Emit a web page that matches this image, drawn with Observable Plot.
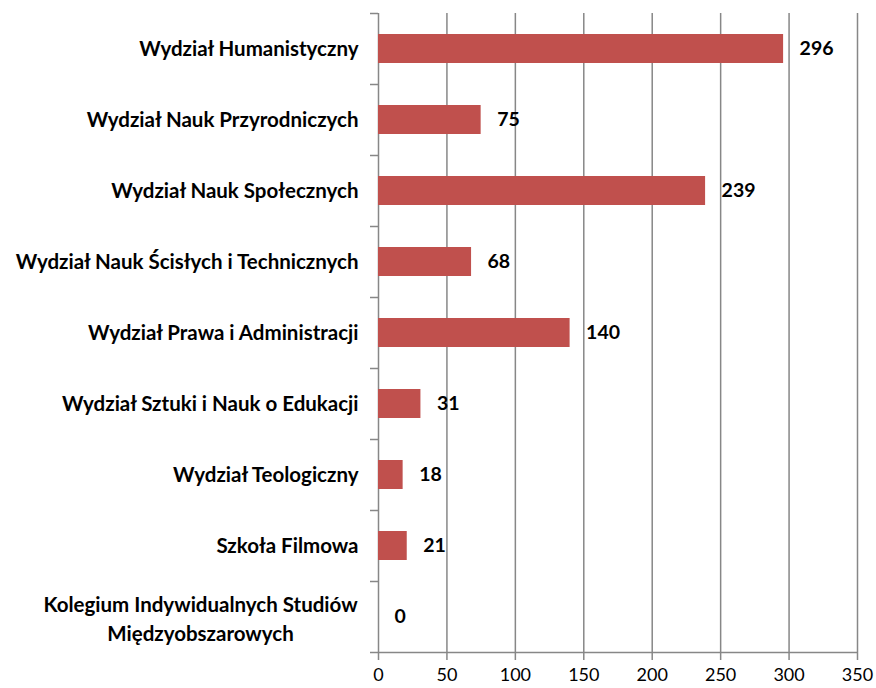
<!DOCTYPE html>
<html>
<head>
<meta charset="utf-8">
<script src="https://cdn.jsdelivr.net/npm/d3@7"></script>
<script src="https://cdn.jsdelivr.net/npm/@observablehq/plot@0.6"></script>
<style>
  html, body { margin: 0; padding: 0; background: #fff; }
  #chart svg { display: block; }
</style>
</head>
<body>
<div id="chart"></div>
<script>
const categories = [
  "Wydział Humanistyczny",
  "Wydział Nauk Przyrodniczych",
  "Wydział Nauk Społecznych",
  "Wydział Nauk Ścisłych i Technicznych",
  "Wydział Prawa i Administracji",
  "Wydział Sztuki i Nauk o Edukacji",
  "Wydział Teologiczny",
  "Szkoła Filmowa",
  "Kolegium Indywidualnych Studiów\nMiędzyobszarowych"
];
const values = [296, 75, 239, 68, 140, 31, 18, 21, 0];
const xTicks = [0, 50, 100, 150, 200, 250, 300, 350];

const data = categories.map((c, i) => ({category: c, value: values[i], i}));
const single = data.filter(d => !d.category.includes("\n"));
const multi = data.filter(d => d.category.includes("\n"));
const boundaries = d3.range(categories.length + 1);

const grid = "#878787";
const font = "Lato, 'Open Sans', sans-serif";

const chart = Plot.plot({
  width: 876,
  height: 688,
  marginLeft: 378,
  marginRight: 19,
  marginTop: 13,
  marginBottom: 36,
  style: {fontFamily: font, color: "#000", background: "#fff"},
  x: {domain: [0, 350], label: null},
  y: {domain: [categories.length, 0], label: null},
  marks: [
    Plot.ruleX(xTicks, {x: d => d, stroke: grid, strokeWidth: 1.5}),
    Plot.rect(data, {
      x1: 0, x2: "value",
      y1: "i", y2: d => d.i + 1,
      insetTop: 21, insetBottom: 21,
      fill: "#C0504D"
    }),
    Plot.ruleY([categories.length], {stroke: grid, strokeWidth: 1.5}),
    Plot.axisY({ticks: boundaries, tickSize: 8, tickFormat: () => "", label: null, stroke: grid, strokeWidth: 1.5}),
    Plot.axisX({ticks: xTicks, tickSize: 8, tickPadding: 8, label: null, fontSize: 18, stroke: grid, strokeWidth: 1.5, fill: "#000"}),
    Plot.text(data, {
      x: "value", y: d => d.i + 0.5, text: d => String(d.value),
      dx: 16, textAnchor: "start", fontWeight: "bold", fontSize: 19.5, fill: "#000"
    }),
    Plot.text(single, {
      x: 0, y: d => d.i + 0.5, text: "category",
      dx: -20, textAnchor: "end", fontWeight: "bold", fontSize: 20.5, fill: "#000"
    }),
    Plot.text(multi, {
      x: 0, y: d => d.i + 0.5, text: "category",
      dx: -178, textAnchor: "middle", lineHeight: 1.41, fontWeight: "bold", fontSize: 20.5, fill: "#000"
    })
  ]
});
document.getElementById("chart").appendChild(chart);
</script>
</body>
</html>
